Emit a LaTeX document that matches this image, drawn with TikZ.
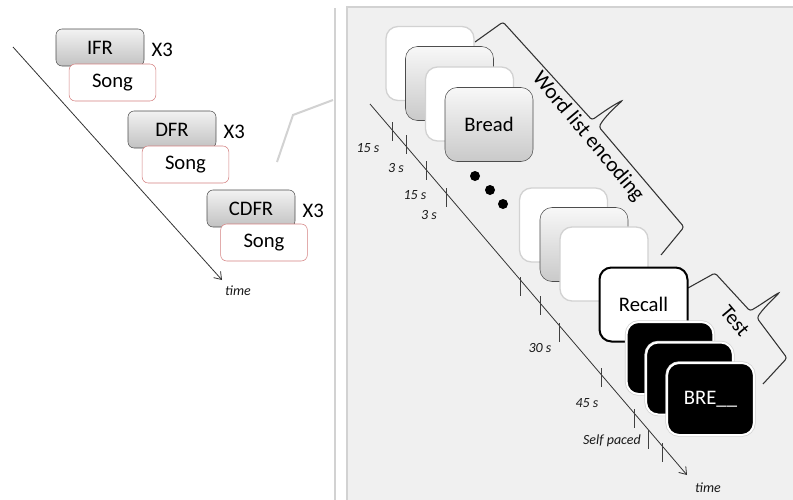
\documentclass[tikz,border=0pt]{standalone}
\usepackage{fontspec}
\setmainfont{Carlito}
\usetikzlibrary{positioning,calc,arrows.meta}

\definecolor{songred}{RGB}{212,128,128}
\definecolor{panelgrey}{RGB}{240,240,240}
\definecolor{rulegrey}{RGB}{210,210,210}

\tikzset{
  boxtext/.style={font=\fontsize{15.5}{18}\selectfont},
  cond/.style={boxtext, draw=black!70, rounded corners=4.5pt, top color=gray!10, bottom color=gray!48,
    minimum width=66pt, minimum height=27.75pt, inner sep=0pt},
  song/.style={boxtext, draw=songred, fill=white, rounded corners=4.5pt,
    minimum width=65pt, minimum height=27.75pt, inner sep=0pt},
  blank/.style={draw=rulegrey, line width=1pt, fill=white, rounded corners=9pt,
    minimum width=66pt, minimum height=55.5pt},
  word/.style={boxtext, draw=black!70, top color=gray!6, bottom color=gray!42, rounded corners=9pt,
    minimum width=66pt, minimum height=55.5pt},
  probe/.style={boxtext, draw=black, line width=1.5pt, fill=white, rounded corners=9pt,
    minimum width=66pt, minimum height=55.5pt},
  cue/.style={boxtext, text=white, fill=black, draw=white, line width=1.5pt, rounded corners=9pt,
    preaction={draw=gray!35, line width=2.6pt}, minimum width=65pt, minimum height=54pt},
  tick/.style={black!75, line width=0.7pt},
  lbl/.style={font=\fontsize{10.5}{12}\selectfont\itshape, text=black!90},
  timeline/.style={black!80, line width=0.6pt, -{Straight Barb[length=5pt,width=7pt]}},
  brace/.style={black!80, line width=0.8pt, rounded corners=2pt},
}

\begin{document}
\begin{tikzpicture}[x=0.75pt,y=-0.75pt]
\useasboundingbox (0,0) rectangle (793,500);
\clip (0,0) rectangle (793,500);

% conditions (left)
\draw[rulegrey, line width=1.5pt] (335,8) -- (335,505); % divider
\draw[rulegrey, line width=1.5pt] (333,100) -- (293,115) -- (277,162); % zoom line
\coordinate (lt0) at (13,47);
\coordinate (lt1) at (222,280);
\draw[timeline] (lt0) -- (lt1);
\node[lbl] (ltime) at (238,291) {time};

\node[cond] (ifr) at (100,47.5) {IFR};
\node[song] (song1) at (112.5,82.5) {Song};
\node[boxtext, right=2pt of ifr, yshift=-1.5pt] (rep1) {X3};
\node[cond] (dfr) at (172,129.5) {DFR};
\node[song] (song2) at (185.5,164.5) {Song};
\node[boxtext, right=2pt of dfr, yshift=-1.5pt] (rep2) {X3};
\node[cond] (cdfr) at (251,208.5) {CDFR};
\node[song] (song3) at (264,242.5) {Song};
\node[boxtext, right=2pt of cdfr, yshift=-1.5pt] (rep3) {X3};

% one trial (right)
\draw[rulegrey, line width=1.5pt, fill=panelgrey] (347,7) rectangle (805,510); % panel

\coordinate (rt0) at (370,104);
\coordinate (rt1) at (687,475);
\draw[timeline] (rt0) -- (rt1);
\foreach \x/\y in {392/122, 406/135, 426/161, 446/188, 520/277, 540/296,
                   559/323, 601/368, 634/409, 648/430, 662/443}
  \draw[tick] (\x,\y) -- ++(0,18.5);
\node[lbl] (d1) at (368,148) {15 s};
\node[lbl] (d2) at (396,168) {3 s};
\node[lbl] (d3) at (415,195) {15 s};
\node[lbl] (d4) at (429,215) {3 s};
\node[lbl] (d5) at (540,348) {30 s};
\node[lbl] (d6) at (587,403) {45 s};
\node[lbl] (d7) at (612,441) {Self paced};
\node[lbl] (rtime) at (708,488) {time};

% braces
\draw[brace] (475,42) -- (503,22) -- (592,120) .. controls (606,110) and (612,106) .. (623,100)
  .. controls (612,110) and (604,118) .. (599,127) -- (684,227) -- (661,255); % encoding
\node[font=\fontsize{16}{19}\selectfont, rotate=-50] (enc) at (588,137) {Word list encoding};
\draw[brace] (688,288) -- (715,273) -- (750,311) .. controls (762,304) and (770,298) .. (780,292)
  .. controls (770,302) and (762,310) .. (757,318) -- (787,358) -- (763,384); % test
\node[boxtext, rotate=-50] (tst) at (735,321) {Test};

% study items
\node[blank] (s1) at (430,63.5) {};
\node[word] (s2) at (449.5,83.5) {};
\node[blank] (s3) at (469.5,104) {};
\node[word] (s4) at (489,124.5) {Bread};
\foreach \x/\y in {475/176, 490/190, 503/204}
  \fill (\x,\y) circle (3.75pt);
\node[blank] (s5) at (563.5,225) {};
\node[word] (s6) at (584,244.5) {};
\node[blank] (s7) at (604,264) {};

% test items
\node[probe] (rec) at (643.5,304.5) {Recall};
\node[cue] (c1) at (670,358) {};
\node[cue] (c2) at (689.5,378.5) {};
\node[cue] (c3) at (710.5,399) {BRE\_\_};
\end{tikzpicture}
\end{document}
